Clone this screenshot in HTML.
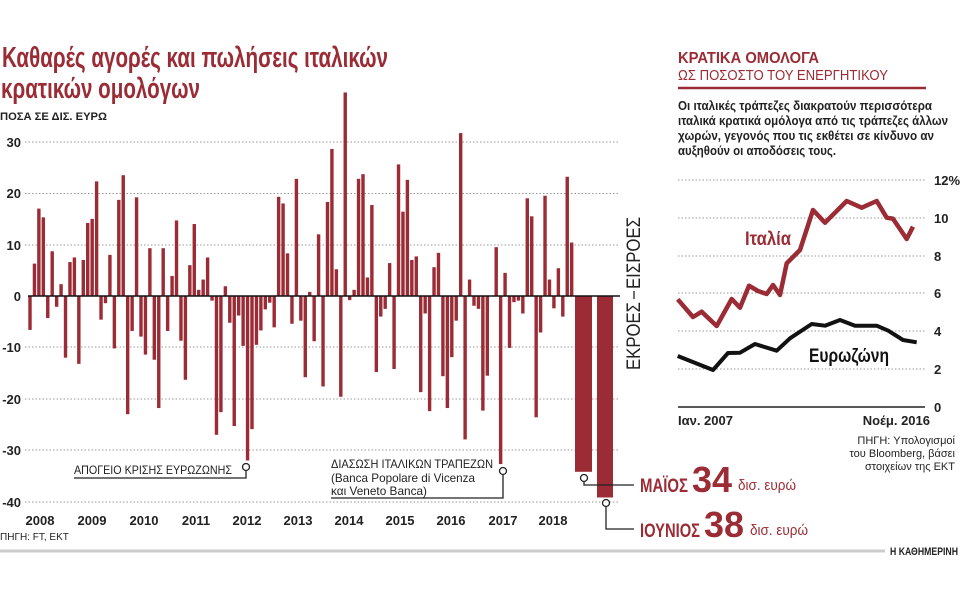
<!DOCTYPE html>
<html><head><meta charset="utf-8"><style>
html,body{margin:0;padding:0;background:#fff;}
svg{display:block;font-family:"Liberation Sans Narrow","Liberation Sans","DejaVu Sans Condensed",sans-serif;}
</style></head><body>
<svg id="s" width="960" height="600" viewBox="0 0 960 600" xmlns="http://www.w3.org/2000/svg">
<rect width="960" height="600" fill="#fff"/>
<text x="2" y="67" font-size="29" font-weight="bold" fill="#9b2b34" textLength="386" lengthAdjust="spacingAndGlyphs">Καθαρές αγορές και πωλήσεις ιταλικών</text>
<text x="1" y="98" font-size="29" font-weight="bold" fill="#9b2b34" textLength="199" lengthAdjust="spacingAndGlyphs">κρατικών ομολόγων</text>
<text x="0" y="120" font-size="11" font-weight="bold" fill="#222" textLength="107" lengthAdjust="spacingAndGlyphs">ΠΟΣΑ ΣΕ  ΔΙΣ. ΕΥΡΩ</text>
<g stroke="#999" stroke-width="1" stroke-dasharray="1.5,2">
<line x1="25" x2="620" y1="142" y2="142"/><line x1="25" x2="620" y1="193.5" y2="193.5"/><line x1="25" x2="620" y1="245" y2="245"/>
<line x1="25" x2="620" y1="347" y2="347"/><line x1="25" x2="620" y1="399" y2="399"/><line x1="25" x2="620" y1="450" y2="450"/><line x1="25" x2="620" y1="502" y2="502"/>
</g>
<g font-size="13" font-weight="bold" fill="#222" text-anchor="end">
<text x="21" y="147">30</text><text x="21" y="198">20</text><text x="21" y="250">10</text><text x="21" y="301">0</text>
<text x="21" y="352">-10</text><text x="21" y="404">-20</text><text x="21" y="455">-30</text><text x="21" y="507">-40</text>
</g>
<g id="bars" fill="#9b2b34"></g>
<line x1="28" x2="620" y1="296" y2="296" stroke="#111" stroke-width="1.5"/>
<g font-size="13" font-weight="bold" fill="#222" text-anchor="middle">
<text x="40" y="525">2008</text><text x="92" y="525">2009</text><text x="144" y="525">2010</text><text x="196" y="525">2011</text>
<text x="247" y="525">2012</text><text x="298" y="525">2013</text><text x="349" y="525">2014</text><text x="400" y="525">2015</text>
<text x="451" y="525">2016</text><text x="503" y="525">2017</text><text x="553" y="525">2018</text>
</g>
<text x="0" y="540" font-size="10" fill="#222">ΠΗΓΗ: FT, ΕΚΤ</text>
<g fill="none" stroke="#222" stroke-width="1.3">
<polyline points="74,478 246,478 246,471"/><circle cx="246" cy="467" r="3.5" fill="#fff"/>
<polyline points="331,498 503,498 503,475"/><circle cx="503" cy="471" r="3.5" fill="#fff"/>
<polyline points="584,482 584,485 634,485"/><circle cx="584" cy="478" r="3.5" fill="#fff"/>
<polyline points="606,507 606,529 634,529"/><circle cx="606" cy="503" r="3.5" fill="#fff"/>
</g>
<g font-size="12" fill="#222">
<text x="74" y="474" textLength="158" lengthAdjust="spacingAndGlyphs">ΑΠΟΓΕΙΟ ΚΡΙΣΗΣ ΕΥΡΩΖΩΝΗΣ</text>
<text x="331" y="468" textLength="162" lengthAdjust="spacingAndGlyphs">ΔΙΑΣΩΣΗ ΙΤΑΛΙΚΩΝ ΤΡΑΠΕΖΩΝ</text>
<text x="331" y="482" textLength="144" lengthAdjust="spacingAndGlyphs">(Banca Popolare di Vicenza</text>
<text x="331" y="495" textLength="96" lengthAdjust="spacingAndGlyphs">και Veneto Banca)</text>
</g>
<g fill="#9b2b34" font-weight="bold">
<text x="640" y="492" font-size="19" textLength="48" lengthAdjust="spacingAndGlyphs">ΜΑΪΟΣ</text>
<text x="692" y="492" font-size="36" textLength="40" lengthAdjust="spacingAndGlyphs">34</text>
<text x="738" y="490" font-size="15" font-weight="normal" textLength="58" lengthAdjust="spacingAndGlyphs">δισ. ευρώ</text>
<text x="640" y="537" font-size="19" textLength="60" lengthAdjust="spacingAndGlyphs">ΙΟΥΝΙΟΣ</text>
<text x="704" y="537" font-size="36" textLength="40" lengthAdjust="spacingAndGlyphs">38</text>
<text x="750" y="535" font-size="15" font-weight="normal" textLength="58" lengthAdjust="spacingAndGlyphs">δισ. ευρώ</text>
</g>
<g font-size="19" fill="#222" transform="translate(640,0)">
<text transform="translate(0,289) rotate(-90)" textLength="72" lengthAdjust="spacingAndGlyphs">ΕΙΣΡΟΕΣ</text>
<text transform="translate(0,370) rotate(-90)" textLength="68" lengthAdjust="spacingAndGlyphs">ΕΚΡΟΕΣ</text>
<line x1="-6" x2="-6" y1="291" y2="299" stroke="#222" stroke-width="1.3"/>
</g>
<line x1="0" x2="885" y1="551" y2="551" stroke="#ccc" stroke-width="3"/>
<text x="958" y="555" font-size="11" font-weight="bold" fill="#222" text-anchor="end" textLength="68" lengthAdjust="spacingAndGlyphs">Η ΚΑΘΗΜΕΡΙΝΗ</text>
<text x="678" y="63" font-size="16" font-weight="bold" fill="#9b2b34" textLength="141" lengthAdjust="spacingAndGlyphs">ΚΡΑΤΙΚΑ ΟΜΟΛΟΓΑ</text>
<text x="678" y="80" font-size="15" fill="#9b2b34" textLength="210" lengthAdjust="spacingAndGlyphs">ΩΣ ΠΟΣΟΣΤΟ ΤΟΥ ΕΝΕΡΓΗΤΙΚΟΥ</text>
<line x1="678" x2="926" y1="88" y2="88" stroke="#9b2b34" stroke-width="2.5"/>
<g font-size="12.5" font-weight="bold" fill="#222">
<text x="678" y="110" textLength="254" lengthAdjust="spacingAndGlyphs">Οι ιταλικές τράπεζες διακρατούν περισσότερα</text>
<text x="678" y="125" textLength="270" lengthAdjust="spacingAndGlyphs">ιταλικά κρατικά ομόλογα από τις τράπεζες άλλων</text>
<text x="678" y="140" textLength="256" lengthAdjust="spacingAndGlyphs">χωρών, γεγονός που τις εκθέτει σε κίνδυνο αν</text>
<text x="678" y="155" textLength="158" lengthAdjust="spacingAndGlyphs">αυξηθούν οι αποδόσεις τους.</text>
</g>
<g stroke="#999" stroke-width="1" stroke-dasharray="1.5,2">
<line x1="678" x2="925" y1="180" y2="180"/><line x1="678" x2="925" y1="218" y2="218"/><line x1="678" x2="925" y1="256" y2="256"/>
<line x1="678" x2="925" y1="293" y2="293"/><line x1="678" x2="925" y1="331" y2="331"/><line x1="678" x2="925" y1="369" y2="369"/>
</g>
<line x1="678" x2="925" y1="407" y2="407" stroke="#222" stroke-width="1.5"/>
<g font-size="13" font-weight="bold" fill="#222">
<text x="934" y="185">12%</text><text x="934" y="223">10</text><text x="934" y="261">8</text><text x="934" y="298">6</text>
<text x="934" y="336">4</text><text x="934" y="374">2</text><text x="934" y="412">0</text>
<text x="678" y="425">Ιαν. 2007</text><text x="930" y="425" text-anchor="end">Νοέμ. 2016</text>
</g>
<polyline fill="none" stroke="#9b2b34" stroke-width="4.5" stroke-linejoin="round" points="677.7,299.3 693,317 701.7,311.7 716.7,326 731.7,299 740,307.7 749,285.7 758,291 766.7,294 773,285 780,295 786.7,263.3 800,250 813,210 825,222.7 846.7,201 861.7,207.7 876.7,201 886.7,217.7 893,218.7 906.7,239 913,226.7"/>
<polyline fill="none" stroke="#111" stroke-width="4" stroke-linejoin="round" points="677.7,356 713,370 728,353 740,352.7 755,344 776.7,350.7 790,338.3 811.7,324 825,325.7 840,320 855,325.7 876.7,325.7 888.3,330.7 903,340 916.7,342.3"/>
<text x="745" y="245" font-size="19" font-weight="bold" fill="#9b2b34" textLength="46" lengthAdjust="spacingAndGlyphs">Ιταλία</text>
<text x="809" y="362" font-size="19" font-weight="bold" fill="#111" textLength="80" lengthAdjust="spacingAndGlyphs">Ευρωζώνη</text>
<g font-size="11" fill="#222" text-anchor="end">
<text x="955" y="444">ΠΗΓΗ: Υπολογισμοί</text><text x="955" y="457">του Bloomberg, βάσει</text><text x="955" y="470">στοιχείων της ΕΚΤ</text>
</g>
</svg>
<script>
var v1=[-6.6,6.3,17,15.3,-4.3,8.7,-2.1,2.3,-12,6.6,7.5,-13.2,7,14.2,15,22.3,-4.6,-1.4,8,-10.2,18.7,23.5,-23,-6.8,19.2,-7.9,-11.4,9.3,-12.4,-21.8,9.3,-6.8,3.9,14.7,-8.7,-16.3,6,14,1.2,3.2,7.5,-0.9,-27,-22.6,1.9,-5.2,-25.3,-3.8,-9.7,-32,-25.9,-9.5,-6.7,-2.6,-1.3,-6.1,19.3,18,8.3,-5.4,22.8,-4.8,-15.8,0.8,-8.8,
12,-17.6,18.3,28.6,5.2,-19.6,39.6,-0.8,1.2,22.8,23.7,3.6,17.7,-14.8,-4,-2.5,6.4,-14.2,25.6,16.4,22.6,7,7.7,-18.7,-3.4,-22.4,5.6,8.4,-15.6,-21.8,-11.9,-4.8,31.7,-27.9,3.2,-1.9,-2.5,-22.3,-15.5,0,9.5,-32.7,4.5,-10.1,-1.2,-0.9,-3.4,19,15.5,-23.6,-7.1,19.5,3.2,-2.4,5.4,-4,23.2,10.4];
var g=document.getElementById('bars'),ns='http://www.w3.org/2000/svg';
function bar(x,w,val){if(!val)return;var r=document.createElementNS(ns,'rect');var h=Math.abs(val)*5.14;r.setAttribute('x',x);r.setAttribute('width',w);r.setAttribute('y',val>0?296-h:296);r.setAttribute('height',h);g.appendChild(r);}
for(var i=0;i<v1.length;i++){bar(28.3+i*4.44,3.4,v1[i]);}
bar(575,17,-34.2);bar(597,16,-39.2);
</script>
</body></html>
